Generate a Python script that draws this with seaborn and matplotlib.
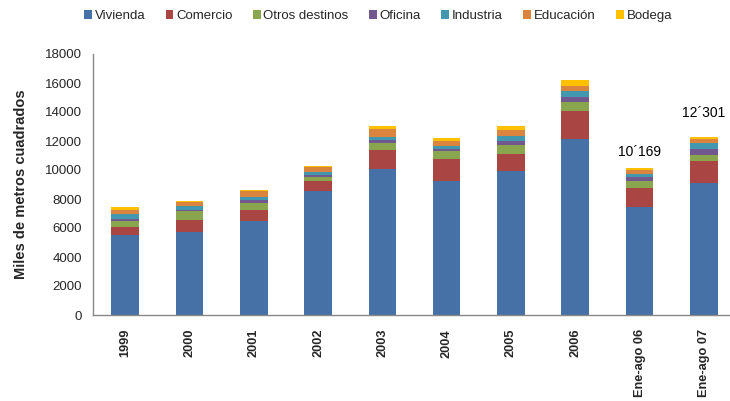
import numpy as np
import pandas as pd
import matplotlib
matplotlib.use("Agg")
import matplotlib.pyplot as plt
from matplotlib.patches import Patch
import seaborn as sns

categories = ["1999", "2000", "2001", "2002", "2003", "2004", "2005", "2006",
              "Ene-ago 06", "Ene-ago 07"]
series_names = ["Vivienda", "Comercio", "Otros destinos", "Oficina",
                "Industria", "Educación", "Bodega"]
vivienda = [5500, 5750, 6480, 8550, 10050, 9240, 9910, 12120, 7470, 9080]
comercio = [590, 830, 760, 670, 1330, 1520, 1215, 1950, 1290, 1540]
otros = [370, 580, 500, 275, 500, 550, 620, 600, 480, 410]
oficina = [160, 90, 185, 160, 205, 160, 275, 365, 300, 430]
industria = [320, 255, 185, 205, 205, 185, 345, 415, 210, 410]
educacion = [300, 295, 435, 345, 510, 345, 395, 365, 260, 280]
bodega = [210, 70, 70, 70, 230, 230, 275, 395, 159, 151]
annot_labels = {"Ene-ago 06": "10´169", "Ene-ago 07": "12´301"}
annot_y = {"Ene-ago 06": 11250, "Ene-ago 07": 13930}
yticks = list(range(0, 18001, 2000))

colors = ["#4671A7", "#A94643", "#89A54E", "#71588F", "#4198AF", "#DB843D", "#FFC000"]

sns.set_style("white")
plt.rcParams["font.family"] = ["Liberation Sans", "DejaVu Sans"]

series = [vivienda, comercio, otros, oficina, industria, educacion, bodega]
cum = np.cumsum(np.array(series), axis=0)

fig = plt.figure(figsize=(7.30, 4.01), dpi=100)
ax = fig.add_axes([93 / 730, 86 / 401, 643 / 730, 261 / 401])

for i in range(len(series) - 1, -1, -1):
    df = pd.DataFrame({"cat": categories, "val": cum[i]})
    sns.barplot(data=df, x="cat", y="val", color=colors[i], width=0.43,
                saturation=1, ax=ax, linewidth=0, order=categories)

ax.set_xlim(-0.5, len(categories) - 0.5)
ax.set_ylim(0, 18000)
ax.set_yticks(yticks)
ax.set_yticklabels([str(t) for t in yticks], fontsize=9.5)
ax.set_xticks(range(len(categories)))
ax.set_xticklabels(categories, rotation=90, fontsize=9.2, fontweight="bold")
ax.set_xticks(np.arange(-0.5, len(categories), 1), minor=True)
ax.tick_params(axis="x", which="major", length=0, pad=10)
ax.tick_params(axis="x", which="minor", length=5, width=1, color="#888888", direction="out")
ax.tick_params(axis="y", length=5, width=1, color="#888888", direction="out", pad=3)
ax.set_xlabel("")
ax.set_ylabel("Miles de metros cuadrados", fontsize=10.5, fontweight="bold", labelpad=12)

for s in ["top", "right"]:
    ax.spines[s].set_visible(False)
for s in ["left", "bottom"]:
    ax.spines[s].set_color("#888888")
    ax.spines[s].set_linewidth(1)

for cat, lab in annot_labels.items():
    ax.text(categories.index(cat), annot_y[cat], lab, ha="center", va="center",
            fontsize=10, color="black")

handles = [Patch(facecolor=c, edgecolor="none", label=n) for c, n in zip(colors, series_names)]
fig.legend(handles=handles, loc="center", bbox_to_anchor=(378 / 730, 1 - 16 / 401),
           ncol=7, frameon=False, fontsize=9.5, handlelength=0.6, handleheight=0.6,
           handletextpad=0.2, columnspacing=1.55, borderaxespad=0)

fig.savefig("out.png", dpi=100)
